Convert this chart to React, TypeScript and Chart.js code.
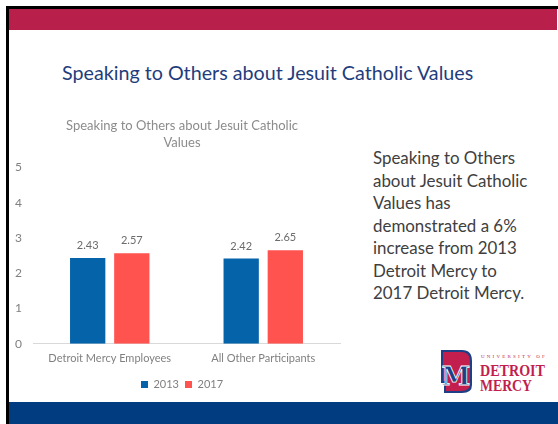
import React, { useEffect, useRef } from "react";
import { Chart, registerables } from "chart.js";

Chart.register(...registerables);

const categories = ["Detroit Mercy Employees", "All Other Participants"];
const seriesNames = ["2013", "2017"];
const values2013 = [2.43, 2.42];
const values2017 = [2.57, 2.65];
const chartTitle = ["Speaking to Others about Jesuit Catholic", "Values"];
const slideTitle = "Speaking to Others about Jesuit Catholic Values";
const sideText = [
  "Speaking to Others",
  "about Jesuit Catholic",
  "Values has",
  "demonstrated a 6%",
  "increase from 2013",
  "Detroit Mercy to",
  "2017 Detroit Mercy.",
];

const FONT = "Lato, 'Open Sans', sans-serif";

const valueLabels = {
  id: "valueLabels",
  afterDatasetsDraw(chart: any) {
    const ctx = chart.ctx;
    ctx.save();
    ctx.font = `11px ${FONT}`;
    ctx.fillStyle = "#6b6b6b";
    ctx.textAlign = "center";
    ctx.textBaseline = "bottom";
    chart.data.datasets.forEach((ds: any, i: number) => {
      const meta = chart.getDatasetMeta(i);
      meta.data.forEach((el: any, j: number) => {
        ctx.fillText(Number(ds.data[j]).toFixed(2), el.x, el.y - 7);
      });
    });
    ctx.restore();
  },
};

function Logo() {
  return (
    <svg width="110" height="46" viewBox="0 0 110 46" style={{ position: "absolute", left: 440, top: 349 }}>
      <path d="M1 1 H22 Q32 1 32 12 V36 Q32 44 22 44 H4 V34 H1 Z" fill="#1d3f85" />
      <path d="M3 3 H21 Q30 3 30 12 V35 Q30 42 21 42 H6 V32 H3 Z" fill="#c21f4e" />
      <text x="16" y="36" textAnchor="middle" fontFamily="'DejaVu Serif', serif" fontWeight="bold" fontSize="26" fill="#1d3f85" stroke="#ffffff" strokeWidth="0.8">M</text>
      <text x="41" y="9" fontFamily="'Liberation Serif', serif" fontSize="5" letterSpacing="2.2" fill="#c21f4e">UNIVERSITY OF</text>
      <text x="40" y="27" fontFamily="'Liberation Serif', serif" fontWeight="bold" fontSize="17.5" fill="#c21f4e" textLength="65" lengthAdjust="spacingAndGlyphs">DETROIT</text>
      <text x="40" y="42" fontFamily="'Liberation Serif', serif" fontWeight="bold" fontSize="17.5" fill="#c21f4e" textLength="52" lengthAdjust="spacingAndGlyphs">MERCY</text>
    </svg>
  );
}

export default function App() {
  const canvasRef = useRef<HTMLCanvasElement | null>(null);

  useEffect(() => {
    if (!canvasRef.current) return;
    const chart = new Chart(canvasRef.current, {
      type: "bar",
      data: {
        labels: categories,
        datasets: [
          { label: seriesNames[0], data: values2013, backgroundColor: "#0563a9" },
          { label: seriesNames[1], data: values2017, backgroundColor: "#ff5350" },
        ],
      },
      options: {
        animation: false,
        responsive: true,
        maintainAspectRatio: false,
        layout: { padding: { left: 16, right: 16, top: 0, bottom: 0 } },
        datasets: { bar: { categoryPercentage: 0.575, barPercentage: 0.8 } },
        plugins: {
          title: {
            display: true,
            text: chartTitle,
            color: "#8c8c8c",
            font: { family: FONT, size: 13, weight: "normal", lineHeight: 1.25 },
            padding: { top: 10, bottom: 17 },
          },
          legend: {
            position: "bottom",
            labels: {
              boxWidth: 7,
              boxHeight: 7,
              padding: 6,
              color: "#808080",
              font: { family: FONT, size: 11 },
            },
          },
          tooltip: { enabled: false },
        },
        scales: {
          x: {
            grid: { display: false, drawTicks: false },
            border: { display: true, color: "#d9d9d9", width: 1 },
            ticks: { color: "#808080", font: { family: FONT, size: 11 }, padding: 8 },
          },
          y: {
            min: 0,
            max: 5,
            grid: { display: false, drawTicks: false },
            border: { display: false },
            ticks: { stepSize: 1, color: "#808080", font: { family: FONT, size: 12 }, mirror: true, padding: -18 },
            afterFit: (s: any) => {
              s.width = 9;
            },
          },
        },
      },
      plugins: [valueLabels],
    });
    return () => chart.destroy();
  }, []);

  return (
    <div style={{ position: "absolute", left: 0, top: 0, width: 558, height: 424, background: "#ffffff", overflow: "hidden" }}>
      <div style={{ position: "absolute", left: 6, top: 6, width: 552, height: 3, background: "#000" }} />
      <div style={{ position: "absolute", left: 6, top: 6, width: 3, height: 418, background: "#000" }} />
      <div style={{ position: "absolute", left: 9, top: 9, width: 548, height: 21, background: "#b81f4b" }} />
      <div style={{ position: "absolute", left: 9, top: 402, width: 549, height: 22, background: "#013c80" }} />
      <div
        style={{
          position: "absolute",
          left: 62,
          top: 59,
          whiteSpace: "nowrap",
          fontFamily: FONT,
          fontSize: 19.7,
          color: "#1f3d7c",
          lineHeight: "28px",
        }}
      >
        {slideTitle}
      </div>
      <div style={{ position: "absolute", left: 8, top: 108, width: 348, height: 292 }}>
        <canvas ref={canvasRef} />
      </div>
      <div
        style={{
          position: "absolute",
          left: 373,
          top: 147,
          fontFamily: FONT,
          fontSize: 16.9,
          lineHeight: "22.5px",
          color: "#404040",
          whiteSpace: "nowrap",
        }}
      >
        {sideText.map((t, i) => (
          <div key={i}>{t}</div>
        ))}
      </div>
      <Logo />
    </div>
  );
}
